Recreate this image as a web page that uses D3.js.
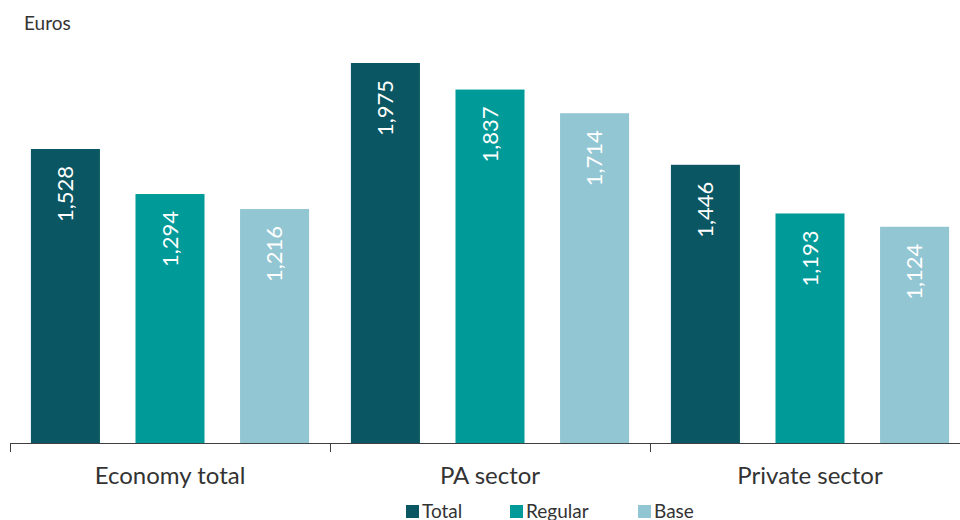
<!DOCTYPE html>
<html lang="en">
	<head>
		<meta charset="UTF-8">
		<title>Grouped Bar Chart</title>
		<style>
			body{margin:0;background:#fff;}
			svg{font-family:Lato, "Open Sans", sans-serif;font-weight:400;}
			.axis path,
			.axis line{
				fill:none;
				stroke:#404040;
				shape-rendering: crispEdges;
			}
			.axis text{font-family:Lato, sans-serif;font-size:24px;fill:#333;}
		</style>
	</head>
	<body>
	<script type="text/javascript" src="https://cdn.jsdelivr.net/npm/d3@7/dist/d3.min.js"></script>
	<script type="text/javascript">
		// data
		var categories = ["Economy total","PA sector","Private sector"];
		var seriesNames = ["Total","Regular","Base"];
		var totalValues = [1528,1975,1446];
		var regularValues = [1294,1837,1193];
		var baseValues = [1216,1714,1124];
		var colors = ["#0a5662","#009a98","#93c6d3"];

		var width = 960, height = 520,
			baseY = 443;

		var rows = categories.map(function(c,i){
			return {cat:c, values:[totalValues[i],regularValues[i],baseValues[i]]};
		});

		// group scale
		var x0 = d3.scaleBand().domain(categories).range([10,970]).padding(0);
		// series scale inside each group
		var x1 = d3.scaleBand().domain(seriesNames).range([0,x0.bandwidth()])
					.paddingInner(0.34).paddingOuter(0.2);
		var y = d3.scaleLinear().domain([0,2000]).range([baseY,58.2]);
		var color = d3.scaleOrdinal().domain(seriesNames).range(colors);
		var fmt = d3.format(",");

		var svg = d3.select("body")
					.append("svg")
					.attr("width",width)
					.attr("height",height);

		// unit label
		svg.append("text")
			.attr("x",24)
			.attr("y",30)
			.style("font-size","19px")
			.style("fill","#333")
			.text("Euros");

		var groups = svg.selectAll(".group")
			.data(rows)
			.enter().append("g")
			.attr("class","group")
			.attr("transform",function(d){return "translate("+x0(d.cat)+",0)";});

		var bars = groups.selectAll(".bar")
			.data(function(d){return d.values.map(function(v,i){return {key:seriesNames[i],value:v};});})
			.enter();

		bars.append("rect")
			.attr("class","bar")
			.attr("x",function(d){return x1(d.key);})
			.attr("width",x1.bandwidth())
			.attr("y",function(d){return y(d.value);})
			.attr("height",function(d){return baseY-y(d.value);})
			.attr("fill",function(d){return color(d.key);});

		// value labels, rotated
		bars.append("text")
			.attr("transform",function(d){
				return "translate("+(x1(d.key)+x1.bandwidth()/2)+","+(y(d.value)+17)+") rotate(-90)";
			})
			.attr("text-anchor","end")
			.attr("dy","0.36em")
			.style("font-size","22px")
			.style("fill","#fff")
			.text(function(d){return fmt(d.value);});

		// x axis: labels centred, ticks at group edges
		var xAxis = d3.axisBottom(x0).tickSize(0).tickPadding(24);
		var gx = svg.append("g")
			.attr("class","x axis")
			.attr("transform","translate(0,"+baseY+")")
			.call(xAxis)
			.attr("font-family",null)
			.attr("font-size",null);
		gx.select(".domain").remove();
		gx.append("line")
			.attr("x1",10).attr("x2",970)
			.attr("y1",0.5).attr("y2",0.5);
		gx.selectAll(".edge")
			.data(categories.concat(["end"]))
			.enter().append("line")
			.attr("class","edge")
			.attr("x1",function(d,i){return 10.5+i*x0.step();})
			.attr("x2",function(d,i){return 10.5+i*x0.step();})
			.attr("y1",0).attr("y2",9);

		// legend
		var legendX = [406,510,638];
		var legend = svg.selectAll(".legend")
			.data(seriesNames)
			.enter().append("g")
			.attr("class","legend")
			.attr("transform",function(d,i){return "translate("+legendX[i]+",504)";});
		legend.append("rect")
			.attr("width",13)
			.attr("height",13)
			.attr("y",1)
			.attr("fill",function(d){return color(d);});
		legend.append("text")
			.attr("x",16)
			.attr("y",14)
			.style("font-size","19px")
			.style("fill","#333")
			.text(function(d){return d;});
	</script>
	</body>
</html>
